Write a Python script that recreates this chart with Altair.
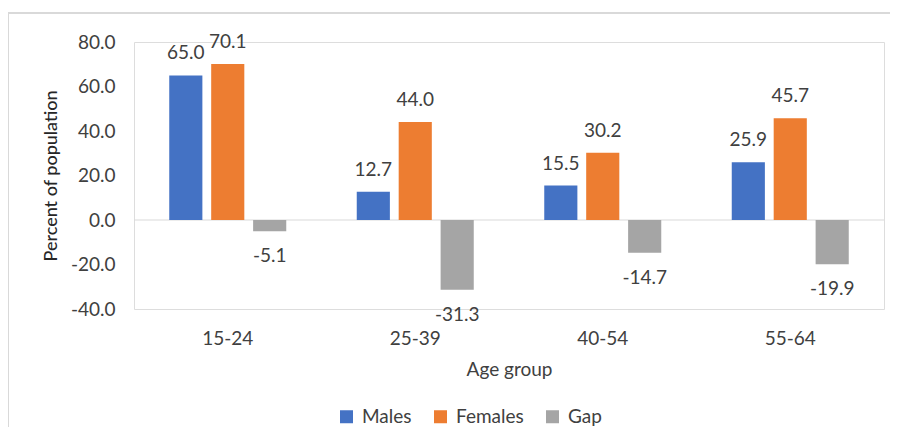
import altair as alt
import pandas as pd

age_groups = ["15-24", "25-39", "40-54", "55-64"]
males = [65.0, 12.7, 15.5, 25.9]
females = [70.1, 44.0, 30.2, 45.7]
gap = [-5.1, -31.3, -14.7, -19.9]
series = ["Males", "Females", "Gap"]
colors = ["#4472C4", "#ED7D31", "#A5A5A5"]
y_ticks = [-40, -20, 0, 20, 40, 60, 80]

rows = []
for i, g in enumerate(age_groups):
    for s, vals in zip(series, [males, females, gap]):
        rows.append({"age": g, "series": s, "value": vals[i]})
df = pd.DataFrame(rows)

FONT = "Lato"
TXT = "#404040"
HYPHEN_FMT = "replace(format(datum.value, '.1f'), '\u2212', '-')"

x_enc = alt.X("age:N", sort=age_groups, title="Age group",
              scale=alt.Scale(paddingInner=0.376, paddingOuter=0.188),
              axis=alt.Axis(labelAngle=0, domain=False, ticks=False, labelPadding=20,
                            titlePadding=12, labelFontSize=19, titleFontSize=19,
                            labelColor=TXT, titleColor=TXT, titleFontWeight="normal",
                            labelFont=FONT, titleFont=FONT))
xo_enc = alt.XOffset("series:N", sort=series,
                     scale=alt.Scale(paddingInner=0.21, paddingOuter=0))
y_enc = alt.Y("value:Q", title="Percent of population",
              scale=alt.Scale(domain=[-40, 80], nice=False, zero=True),
              axis=alt.Axis(values=y_ticks, labelExpr=HYPHEN_FMT, domain=False, ticks=False,
                            grid=False, labelPadding=19, titlePadding=10,
                            labelFontSize=19, titleFontSize=18, labelColor=TXT,
                            titleColor="#262626", titleFontWeight=500,
                            labelFont=FONT, titleFont=FONT))
color_enc = alt.Color("series:N", sort=series,
                      scale=alt.Scale(domain=series, range=colors),
                      legend=alt.Legend(title=None, orient="none", direction="horizontal",
                                        legendX=203, legendY=365, symbolType="square",
                                        symbolSize=169, symbolStrokeWidth=0,
                                        labelFontSize=19, labelFont=FONT, labelColor=TXT,
                                        labelOffset=6, columnPadding=19))

base = alt.Chart(df).transform_calculate(label=HYPHEN_FMT)

bars = base.mark_bar().encode(x=x_enc, xOffset=xo_enc, y=y_enc, color=color_enc)

pos_labels = base.transform_filter("datum.value >= 0").mark_text(
    dy=-22, baseline="middle", fontSize=19, font=FONT, color=TXT
).encode(x=alt.X("age:N", sort=age_groups), xOffset=xo_enc, y="value:Q",
         text="label:N")

neg_labels = base.transform_filter("datum.value < 0").mark_text(
    dy=25, baseline="middle", fontSize=19, font=FONT, color=TXT
).encode(x=alt.X("age:N", sort=age_groups), xOffset=xo_enc, y="value:Q",
         text="label:N")

zero = alt.Chart(pd.DataFrame({"z": [0]})).mark_rule(color="#d9d9d9", strokeWidth=1).encode(
    y="z:Q")

frame = pd.DataFrame({"b": [0]})
border_top = alt.Chart(frame).mark_rule(stroke="#d9d9d9", strokeWidth=2).encode(
    x=alt.value(-126), x2=alt.value(756), y=alt.value(-29))
border_left = alt.Chart(frame).mark_rule(stroke="#d9d9d9", strokeWidth=2).encode(
    x=alt.value(-126), y=alt.value(-29), y2=alt.value(390))

chart = alt.layer(border_top, border_left, zero, bars, pos_labels, neg_labels).properties(
    width=750, height=267,
    autosize=alt.AutoSizeParams(type="none"),
    padding={"left": 126, "top": 34, "right": 6, "bottom": 118},
).configure_view(stroke=None).configure(background="white")

chart.save("out.html", embed_options={"renderer": "svg", "actions": False})
